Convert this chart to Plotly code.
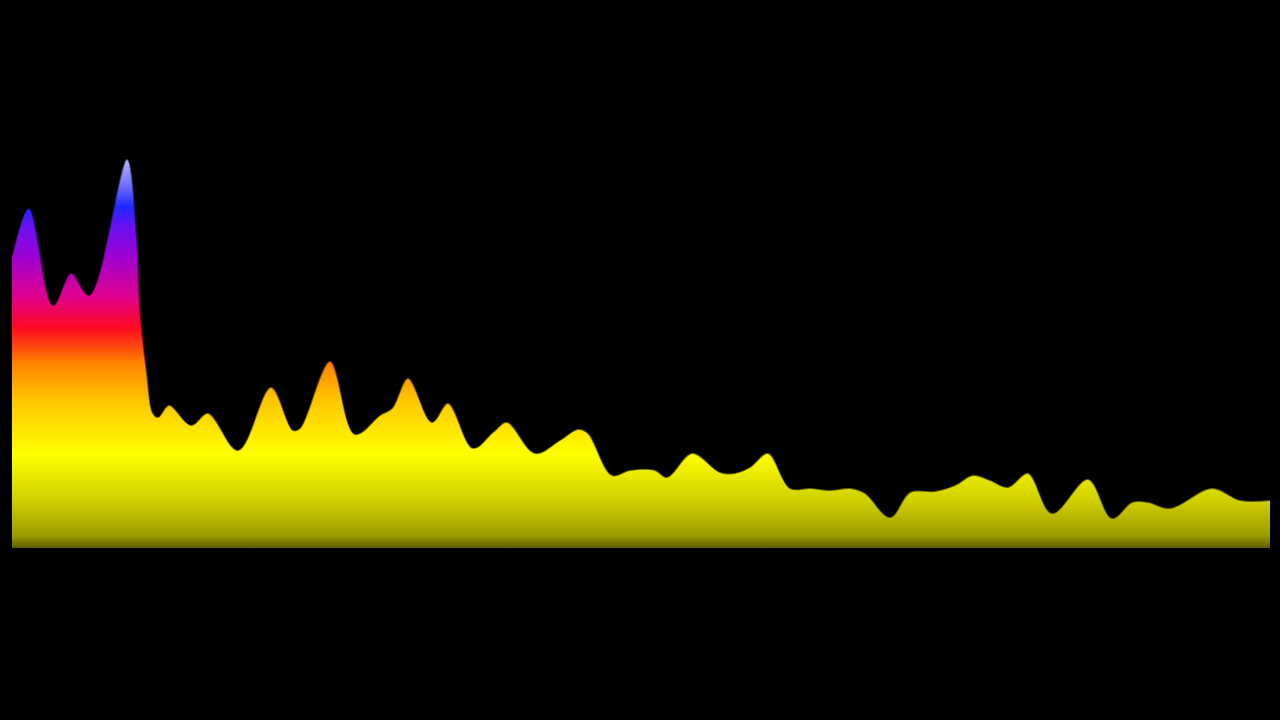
import plotly.graph_objects as go

# Spectrum bins (horizontal position) and amplitudes
bins = [0, 17, 41, 59, 77, 115, 125, 128, 135, 141, 146, 157, 179, 196, 226, 259, 281,
        288, 318, 343, 368, 380, 396, 420, 436, 461, 481, 495, 523, 548, 566, 576, 600,
        618, 643, 655, 680, 708, 723, 738, 756, 778, 798, 818, 838, 853, 878, 898, 923,
        943, 961, 978, 996, 1016, 1040, 1076, 1100, 1120, 1136, 1158, 1200, 1228, 1258]
amplitude = [293, 340, 243, 275, 253, 389, 310, 241, 175, 135, 131, 143, 123, 135, 98, 161, 118,
             120, 187, 114, 133, 140, 170, 126, 145, 100, 116, 126, 95, 108, 119, 115, 73,
             78, 78, 71, 95, 76, 75, 81, 95, 60, 60, 58, 60, 55, 31, 56, 57,
             63, 73, 68, 61, 75, 35, 69, 30, 46, 46, 40, 60, 48, 48]

colorscale = [
    [0.00, "#5a5a00"],
    [0.03, "#9a9a00"],
    [0.12, "#cfcf00"],
    [0.24, "#ffff00"],
    [0.38, "#ffc400"],
    [0.47, "#ff8400"],
    [0.56, "#ff0a1e"],
    [0.64, "#e0008c"],
    [0.74, "#a000d0"],
    [0.82, "#6a10f2"],
    [0.87, "#1e28ff"],
    [0.92, "#6a6aff"],
    [1.00, "#c0c0ff"],
]

fig = go.Figure(
    go.Scatter(
        x=bins,
        y=amplitude,
        mode="lines",
        line=dict(shape="spline", smoothing=1.0, color="rgba(0,0,0,0.55)", width=2),
        fill="tozeroy",
        fillgradient=dict(type="vertical", colorscale=colorscale, start=0, stop=392),
        hoverinfo="skip",
    )
)

fig.update_layout(
    width=1280,
    height=720,
    margin=dict(l=0, r=0, t=0, b=0),
    paper_bgcolor="black",
    plot_bgcolor="black",
    showlegend=False,
    xaxis=dict(range=[-12, 1268], visible=False, fixedrange=True),
    yaxis=dict(range=[-172, 548], visible=False, fixedrange=True),
)

fig.write_html(
    "out.html",
    config={"displayModeBar": False},
    post_script="document.body.style.margin='0';document.body.style.background='black';"
                "document.body.style.overflow='hidden';",
)
